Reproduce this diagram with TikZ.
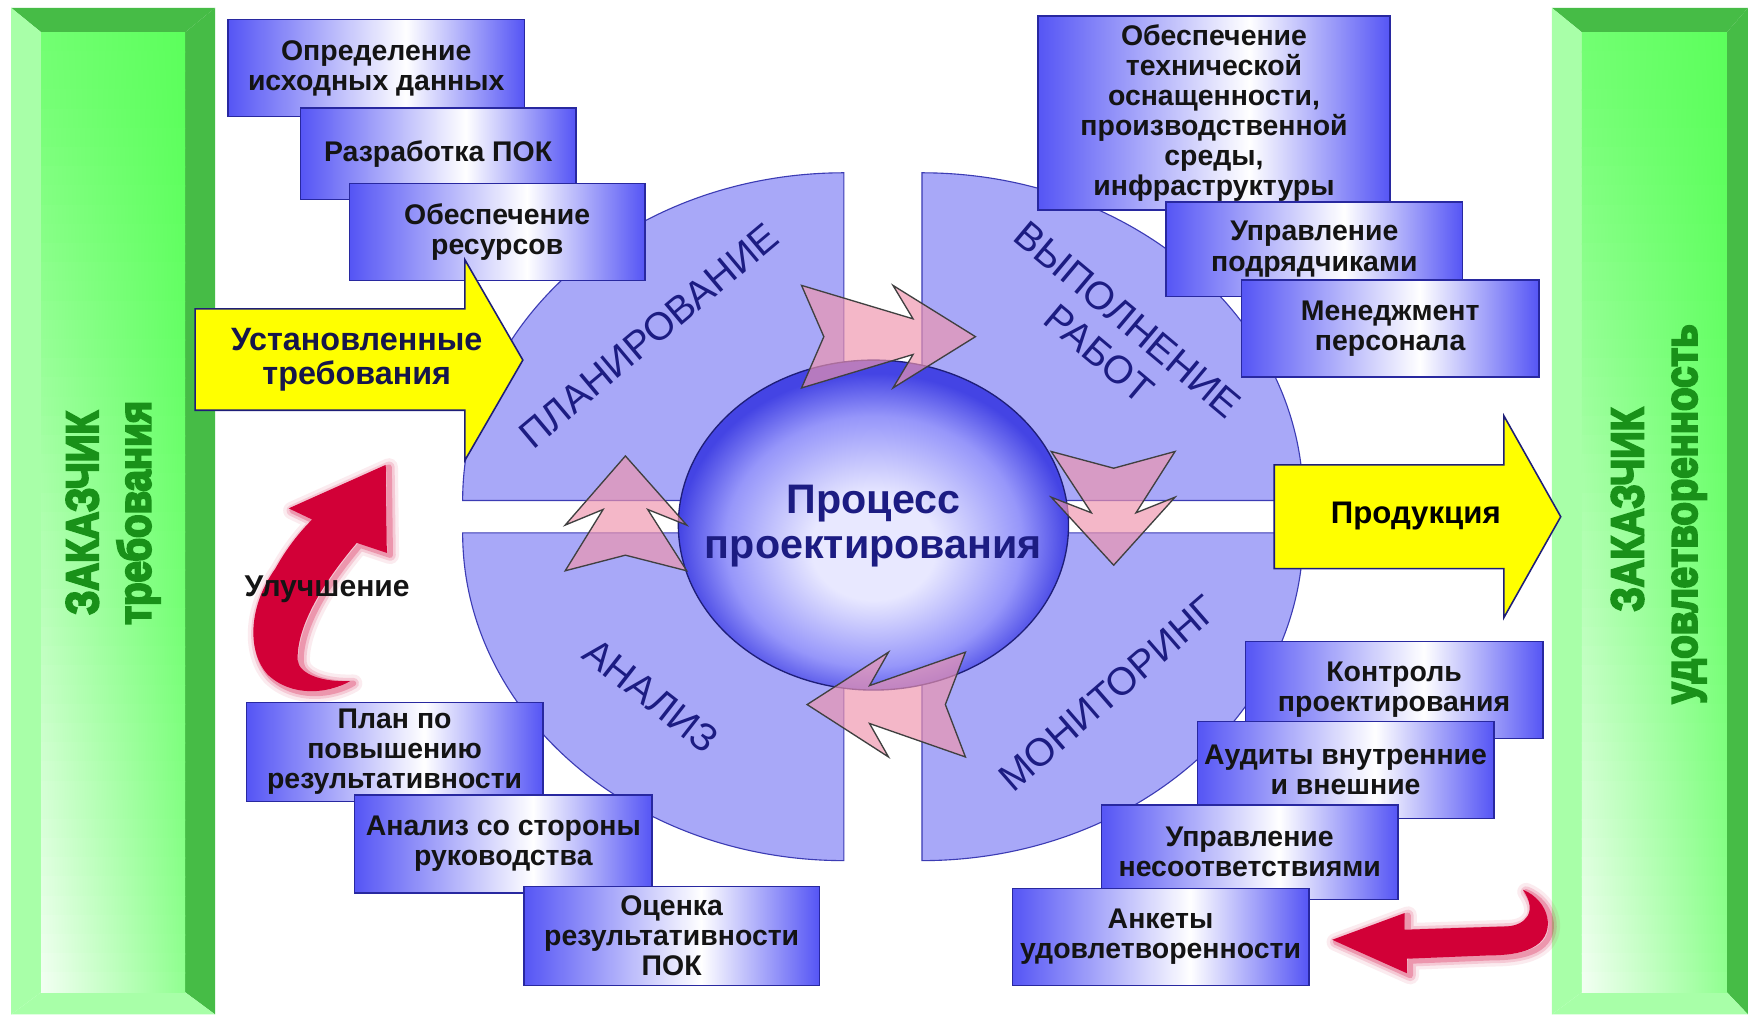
\documentclass[tikz,border=0pt]{standalone}
\usepackage{fontspec}
\setmainfont{Liberation Sans}
\newfontfamily\heavyfont{Liberation Sans}[UprightFeatures={FakeBold=5}, BoldFeatures={FakeBold=5}]
\usepackage{graphicx}

% palette
\definecolor{segfill}{RGB}{168,168,248}
\definecolor{segline}{RGB}{60,60,180}
\definecolor{boxblue}{RGB}{85,85,245}
\definecolor{boxline}{RGB}{40,40,160}
\definecolor{navy}{RGB}{28,28,130}
\definecolor{yel}{RGB}{255,255,0}
\definecolor{yline}{RGB}{30,30,120}
\definecolor{ytext}{RGB}{22,22,75}
\definecolor{pinkfill}{RGB}{239,149,173}
\definecolor{redarrow}{RGB}{210,0,55}
\definecolor{gdark}{RGB}{70,188,70}
\definecolor{glight}{RGB}{168,255,168}
\definecolor{gface}{RGB}{92,255,92}
\definecolor{gpale}{RGB}{242,255,242}
\definecolor{gtext}{RGB}{25,145,25}
\definecolor{sphlight}{RGB}{232,232,255}
\definecolor{sphmid}{RGB}{150,150,250}
\definecolor{sphdark}{RGB}{68,68,228}

\pgfdeclarehorizontalshading{boxshade}{100bp}{color(0bp)=(boxblue); color(25bp)=(boxblue); color(55bp)=(white); color(75bp)=(boxblue); color(100bp)=(boxblue)}
\pgfdeclareradialshading{sphereshade}{\pgfpoint{0bp}{-4bp}}{color(0bp)=(sphlight); color(8bp)=(sphlight); color(19bp)=(sphmid); color(25bp)=(sphdark); color(50bp)=(sphdark)}

\newcommand\boxfont{\fontsize{25.5}{27}\selectfont\bfseries}

\tikzset{
  infobox/.style={draw=boxline, line width=1.3pt, shade, shading=boxshade, align=center,
    inner sep=0pt, text=black!92, font=\boxfont},
  segment/.style={fill=segfill, draw=segline, line width=1pt},
  phase/.style={font=\fontsize{35}{40}\selectfont, text=navy, align=center},
  yarrow/.style={fill=yel, draw=yline, line width=1.4pt, line join=miter},
  pinkchev/.style={fill=pinkfill, fill opacity=0.67, draw=black!75, line width=1.2pt, line join=miter},
  clienttext/.style={rotate=90, anchor=base, font=\heavyfont\fontsize{41}{44}\selectfont\bfseries, text=gtext},
  glow/.style={draw=redarrow, line width=#1, line join=round, shift={(3,2)}},
}

% bevelled customer panel: outer left, outer right, inner left, inner right
\newcommand\clientbar[4]{%
  \fill[gdark] (#1,7) -- (#2,7) -- (#4,29) -- (#3,29) -- cycle;
  \fill[gdark] (#2,7) -- (#2,910) -- (#4,890) -- (#4,29) -- cycle;
  \fill[glight] (#1,7) -- (#3,29) -- (#3,890) -- (#1,910) -- cycle;
  \fill[glight] (#1,910) -- (#3,890) -- (#4,890) -- (#2,910) -- cycle;
  \foreach \i in {0,...,49}{%
    \pgfmathsetmacro\ya{29+\i*17.22}%
    \pgfmathsetmacro\yb{\ya+17.8}%
    \pgfmathtruncatemacro\pl{15+85*(\i/49)^1.1}%
    \pgfmathtruncatemacro\pr{35*(\i/49)^1.5}%
    \shade[left color=gpale!\pl!gface, right color=gpale!\pr!gface] (#3,\ya) rectangle (#4,\yb);
  }%
}

% curved "improvement" arrow
\newcommand\improvearrow[1]{\path[#1] (346,417) -- (347,496) -- (320,487)
  .. controls (292,520) and (266,560) .. (267,592)
  .. controls (268,605) and (290,612) .. (314,611)
  .. controls (295,622) and (262,626) .. (240,605)
  .. controls (222,585) and (222,545) .. (247,510)
  .. controls (257,492) and (268,478) .. (280,466) -- (259,456) -- cycle;}

% curved feedback arrow from the customer
\newcommand\feedbackarrow[1]{\path[#1] (1195,843) -- (1260,819) -- (1260,834) -- (1352,831)
  .. controls (1368,830) and (1380,818) .. (1366,798)
  .. controls (1390,808) and (1396,836) .. (1378,848)
  .. controls (1368,855) and (1352,857) .. (1335,857) -- (1262,860) -- (1262,873) -- cycle;}

\begin{document}
\begin{tikzpicture}[x=1pt,y=-1pt]
\useasboundingbox (0,0) rectangle (1568,912);
\fill[white] (0,0) rectangle (1568,912);

% customer panels
\clientbar{10}{193}{37}{166}
\clientbar{1392}{1568}{1419}{1549}

% four process phases
\path[segment] (757,449) -- (415,449) arc[start angle=180, end angle=270, x radius=342, y radius=294] -- cycle;
\path[segment] (827,449) -- (827,155) arc[start angle=270, end angle=360, x radius=342, y radius=294] -- cycle;
\path[segment] (827,478) -- (1169,478) arc[start angle=0, end angle=90, x radius=342, y radius=294] -- cycle;
\path[segment] (757,478) -- (757,772) arc[start angle=90, end angle=180, x radius=342, y radius=294] -- cycle;

% planning activities
\node[infobox, minimum width=266pt, minimum height=87pt] (defdata) at (337.5,61) {Определение\\исходных данных};
\node[infobox, minimum width=247pt, minimum height=82pt] (pokdev) at (393,138) {Разработка ПОК};
\node[infobox, minimum width=265pt, minimum height=87pt] (resources) at (446,208) {Обеспечение\\ресурсов};

% execution activities
\node[infobox, minimum width=316pt, minimum height=174pt] (infra) at (1089,101.5) {Обеспечение\\технической\\оснащенности,\\производственной\\среды,\\инфраструктуры};
\node[infobox, minimum width=266pt, minimum height=85pt] (contractors) at (1179,223.5) {Управление\\подрядчиками};
\node[infobox, minimum width=267pt, minimum height=87pt] (staff) at (1247,294.5) {Менеджмент\\персонала};

% monitoring activities
\node[infobox, minimum width=267pt, minimum height=87pt] (designctl) at (1250.5,619) {Контроль\\проектирования};
\node[infobox, minimum width=266pt, minimum height=87pt] (audits) at (1207,690.5) {Аудиты внутренние\\и внешние};
\node[infobox, minimum width=266pt, minimum height=85pt] (nonconf) at (1121,764.5) {Управление\\несоответствиями};
\node[infobox, minimum width=266pt, minimum height=87pt] (survey) at (1041,840.5) {Анкеты\\удовлетворенности};

% analysis activities
\node[infobox, minimum width=266pt, minimum height=89pt] (effplan) at (354,674.5) {План по\\повышению\\результативности};
\node[infobox, minimum width=267pt, minimum height=88pt] (mgmtreview) at (451.5,757) {Анализ со стороны\\руководства};
\node[infobox, minimum width=265pt, minimum height=89pt] (effeval) at (602.5,839.5) {Оценка\\результативности\\ПОК};

% central process
\path[draw=yline, line width=1.2pt, shade, shading=sphereshade] (783.5,471) ellipse [x radius=175, y radius=148];

% input and output
\path[yarrow] (175,277) -- (417,277) -- (417,233) -- (469,323) -- (417,413) -- (417,368) -- (175,368) -- cycle;
\node[font=\fontsize{29}{30.5}\selectfont\bfseries, text=ytext, align=center] (reqs) at (320,323) {Установленные\\требования};
\path[yarrow] (1143,417) -- (1349,417) -- (1349,373) -- (1400,463.5) -- (1349,554) -- (1349,510) -- (1143,510) -- cycle;
\node[font=\fontsize{28}{30}\selectfont\bfseries, text=black] (product) at (1270,463) {Продукция};

% cycle arrows between phases
\path[pinkchev] (719,256) -- (819,286) -- (801,256) -- (875,302) -- (801,348) -- (819,318) -- (719,348) -- (739,302) -- cycle;
\path[pinkchev] (943,405) -- (999,420) -- (1054,405) -- (1019,460) -- (1054,446) -- (999,507) -- (943,446) -- (979,460) -- cycle;
\path[pinkchev] (724,632) -- (797,585) -- (780,615) -- (866,585) -- (848,632) -- (866,679) -- (780,649) -- (797,679) -- cycle;
\path[pinkchev] (507,512) -- (561,498) -- (616,512) -- (581,457) -- (616,471) -- (561,409) -- (507,471) -- (541,457) -- cycle;

% improvement and feedback arrows
\improvearrow{glow=16pt, draw opacity=0.08}
\improvearrow{glow=10pt, draw opacity=0.14}
\improvearrow{glow=5pt, draw opacity=0.25}
\improvearrow{fill=redarrow}
\feedbackarrow{glow=16pt, draw opacity=0.08}
\feedbackarrow{glow=10pt, draw opacity=0.14}
\feedbackarrow{glow=5pt, draw opacity=0.25}
\feedbackarrow{fill=redarrow}
\node[font=\fontsize{27}{29}\selectfont\bfseries, text=black!92] (improve) at (293.5,529) {Улучшение};

% labels
\node[font=\fontsize{37}{40}\selectfont\bfseries, text=navy, align=center] (process) at (783.5,472) {Процесс\\проектирования};
\node[phase, rotate=40] (planning) at (582,301) {ПЛАНИРОВАНИЕ};
\node[phase, rotate=-40] (execution) at (999,302) {ВЫПОЛНЕНИЕ\\РАБОТ};
\node[phase, rotate=-38] (analysis) at (584,624) {АНАЛИЗ};
\node[phase, rotate=41] (monitoring) at (994,622) {МОНИТОРИНГ};

\node[clienttext] (clientL) at (88,460) {\scalebox{0.84}[1]{ЗАКАЗЧИК}};
\node[clienttext] (needs) at (135,460) {\scalebox{0.84}[1]{требования}};
\node[clienttext] (clientR) at (1474,457) {\scalebox{0.84}[1]{ЗАКАЗЧИК}};
\node[clienttext] (satisf) at (1522,461) {\scalebox{0.84}[1]{удовлетворенность}};
\end{tikzpicture}
\end{document}
